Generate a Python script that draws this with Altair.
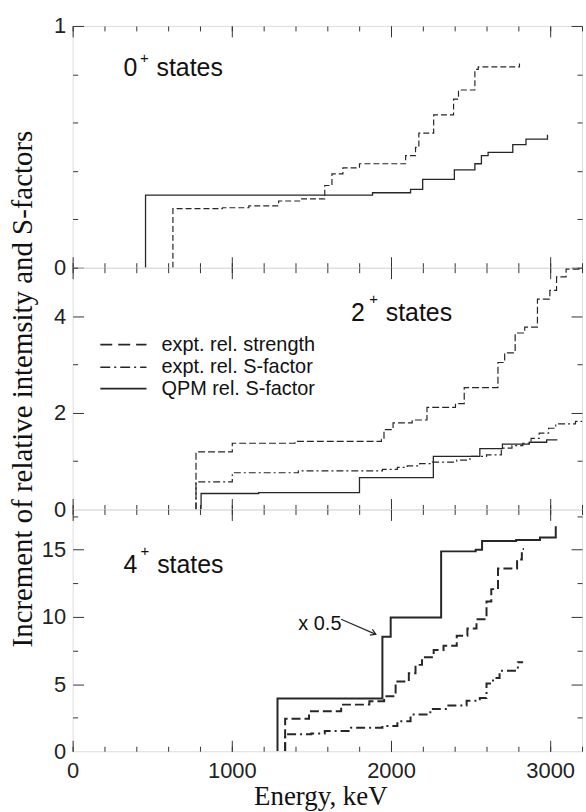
import altair as alt
import pandas as pd

X_MAX = 3200
LINE = "#262626"
FRAME = "#333333"

# ---------------- data ----------------
# 0+ states
p1_str_x = [630, 630, 941, 1107, 1294, 1439, 1584, 1629, 1698, 1802, 2092, 2154, 2175, 2268, 2393, 2424, 2527, 2548, 2807]
p1_str_y = [0, 0.244, 0.248, 0.256, 0.276, 0.285, 0.34, 0.388, 0.413, 0.43, 0.464, 0.498, 0.557, 0.632, 0.697, 0.735, 0.82, 0.831, 0.845]
p1_qpm_x = [458, 458, 1884, 2123, 2199, 2398, 2527, 2568, 2610, 2765, 2848, 2983]
p1_qpm_y = [0, 0.30, 0.31, 0.324, 0.365, 0.405, 0.43, 0.464, 0.477, 0.509, 0.532, 0.55]

# 2+ states
p2_str_x = [775, 775, 1003, 1397, 1940, 1956, 2013, 2133, 2226, 2405, 2460, 2672, 2714, 2780, 2840, 2920, 2998, 3040, 3100, 3200]
p2_str_y = [0, 1.19, 1.37, 1.41, 1.45, 1.65, 1.79, 1.85, 2.11, 2.19, 2.52, 3.04, 3.24, 3.65, 3.77, 4.35, 4.53, 4.81, 4.97, 4.97]
p2_sf_x = [775, 775, 1003, 1418, 1946, 2040, 2102, 2180, 2260, 2413, 2496, 2600, 2693, 2760, 2828, 2880, 2931, 2990, 3035, 3159, 3200]
p2_sf_y = [0, 0.57, 0.76, 0.80, 0.83, 0.87, 0.90, 0.95, 0.98, 1.02, 1.10, 1.13, 1.27, 1.32, 1.37, 1.47, 1.58, 1.68, 1.77, 1.82, 1.84]
p2_qpm_x = [807, 807, 1169, 1802, 2266, 2558, 2700, 2869, 2978, 3045]
p2_qpm_y = [0, 0.33, 0.35, 0.66, 1.10, 1.26, 1.35, 1.39, 1.44, 1.44]

# 4+ states
p3_qpm_x = [1287, 1287, 1946, 1998, 2315, 2532, 2572, 2786, 2936, 3035]
p3_qpm_y = [0, 3.92, 8.52, 9.95, 14.88, 15.0, 15.65, 15.72, 15.92, 16.75]
p3_str_x = [1335, 1335, 1485, 1687, 1864, 1957, 2029, 2112, 2154, 2195, 2268, 2330, 2413, 2480, 2537, 2600, 2630, 2672, 2792, 2822, 2835]
p3_str_y = [0, 2.41, 2.97, 3.47, 3.72, 4.09, 5.2, 5.8, 6.43, 7.0, 7.54, 7.86, 8.6, 9.14, 9.82, 11.15, 12.07, 13.6, 14.28, 15.05, 15.05]
p3_sf_x = [1335, 1335, 1500, 1584, 1749, 1946, 2040, 2123, 2247, 2351, 2475, 2558, 2600, 2641, 2682, 2797, 2830]
p3_sf_y = [0, 1.26, 1.32, 1.50, 1.75, 1.87, 2.24, 2.73, 3.15, 3.40, 3.76, 3.97, 5.05, 5.45, 6.0, 6.62, 6.62]

legend_labels = ["expt. rel. strength", "expt. rel. S-factor", "QPM rel. S-factor"]
x_tick_labels = [0, 1000, 2000, 3000]
x_minor = list(range(0, X_MAX + 1, 200))

W = 512
H = 243


def step_df(xs, ys):
    return pd.DataFrame({"x": xs, "y": ys, "i": list(range(len(xs)))})


def ax(orient, values, size):
    return alt.Axis(orient=orient, values=values, tickSize={"expr": str(-size)},
                    labels=False, domain=False, grid=False, title=None,
                    tickColor=FRAME, tickWidth=1)


def panel(series, ymax, y_major, y_minor, y_labels, bottom=False, y_title=None, extras=()):
    xs = alt.Scale(domain=[0, X_MAX], nice=False, zero=False)
    ys = alt.Scale(domain=[0, ymax], nice=False, zero=False)
    layers = []
    for xv, yv, dash, width in series:
        mk = dict(interpolate="step-after", strokeWidth=width, color=LINE, clip=True)
        if dash:
            mk["strokeDash"] = dash
        layers.append(
            alt.Chart(step_df(xv, yv)).mark_line(**mk).encode(
                x=alt.X("x:Q", scale=xs, axis=None),
                y=alt.Y("y:Q", scale=ys, axis=None),
                order="i:Q",
            )
        )
    corner = pd.DataFrame({"x": [0, X_MAX], "y": [0, ymax]})

    def axis_layer(xa, ya):
        return alt.Chart(corner).mark_point(opacity=0).encode(
            x=alt.X("x:Q", scale=xs, axis=xa), y=alt.Y("y:Q", scale=ys, axis=ya)
        )

    layers.append(axis_layer(ax("bottom", x_tick_labels, 11), ax("left", y_major, 11)))
    layers.append(axis_layer(ax("bottom", x_minor, 5), ax("left", y_minor, 5)))
    layers.append(axis_layer(ax("top", x_tick_labels, 11), ax("right", y_major, 11)))
    layers.append(axis_layer(ax("top", x_minor, 5), ax("right", y_minor, 5)))

    ylab = dict(orient="left", values=y_labels, ticks=False, domain=False, grid=False,
                labelFont="Liberation Sans", labelFontSize=22, labelPadding=7, format="d",
                labelColor="#222", labelFlush=False, labelOverlap=False)
    if y_title:
        ylab.update(title=y_title, titleFont="Liberation Serif", titleFontSize=29,
                    titleFontWeight="normal", titleColor="#111", titleAngle=270,
                    titleBaseline="alphabetic", titleAlign="center", titleX=-41, titleY=H / 2)
    else:
        ylab.update(title=None)
    if bottom:
        xlab = alt.Axis(orient="bottom", values=x_tick_labels, ticks=False, domain=False, grid=False,
                        labelFont="Liberation Sans", labelFontSize=22, labelPadding=9, format="d",
                        labelColor="#222", labelFlush=False, labelOverlap=False,
                        title="Energy, keV", titleFont="Liberation Serif", titleFontSize=27,
                        titleFontWeight="normal", titleColor="#111", titleBaseline="alphabetic",
                        titleAlign="center", titleX=249, titleY=54)
    else:
        xlab = None
    layers.append(axis_layer(xlab, alt.Axis(**ylab)))

    for ex in extras:
        layers.append(ex(xs, ys))

    return alt.layer(*layers).resolve_axis(x="independent", y="independent").properties(width=W, height=H)


def label_layer(rows):
    def make(xs, ys):
        df = pd.DataFrame(rows, columns=["t", "x", "y", "fs"])
        return alt.Chart(df).mark_text(align="left", baseline="alphabetic", font="Liberation Sans",
                                       color="#111").encode(
            x=alt.X("x:Q", scale=xs, axis=None), y=alt.Y("y:Q", scale=ys, axis=None),
            text="t:N", size=alt.Size("fs:Q", scale=None, legend=None))
    return make


# legend for 2+ panel
def legend_line(yv, dash, width):
    def make(xs, ys):
        df = pd.DataFrame({"x": [174], "x2": [464], "y": [yv]})
        mk = dict(color=LINE, strokeWidth=width)
        if dash:
            mk["strokeDash"] = dash
        return alt.Chart(df).mark_rule(**mk).encode(
            x=alt.X("x:Q", scale=xs, axis=None), x2="x2:Q", y=alt.Y("y:Q", scale=ys, axis=None))
    return make


def legend_text(xs, ys):
    df = pd.DataFrame({"t": legend_labels, "x": [558] * 3, "y": [3.41, 2.94, 2.50]})
    return alt.Chart(df).mark_text(align="left", baseline="middle", font="Liberation Sans",
                                   fontSize=20, color="#111").encode(
        x=alt.X("x:Q", scale=xs, axis=None), y=alt.Y("y:Q", scale=ys, axis=None), text="t:N")


def arrow_line(xs, ys):
    df = pd.DataFrame({"x": [1687, 1905], "y": [9.83, 8.70]})
    return alt.Chart(df).mark_line(color=LINE, strokeWidth=1.2).encode(
        x=alt.X("x:Q", scale=xs, axis=None), y=alt.Y("y:Q", scale=ys, axis=None))


def arrow_head(xs, ys):
    df = pd.DataFrame({"x": [1905], "y": [8.70]})
    return alt.Chart(df).mark_point(shape="M -1 -0.6 L 0 0 L -1 0.6", angle=23.6, size=110,
                                    filled=False, color=LINE, strokeWidth=1.2, opacity=1).encode(
        x=alt.X("x:Q", scale=xs, axis=None), y=alt.Y("y:Q", scale=ys, axis=None))


p1 = panel(
    [(p1_str_x, p1_str_y, [6, 3], 1.2), (p1_qpm_x, p1_qpm_y, None, 1.3)],
    1, [0, 1], [0.2, 0.4, 0.6, 0.8], [0, 1],
    extras=[label_layer([("0", 319, 0.795, 25), ("+", 423, 0.848, 15), ("states", 527, 0.795, 25)])],
)

p2 = panel(
    [(p2_str_x, p2_str_y, [7, 3], 1.2), (p2_sf_x, p2_sf_y, [7, 3, 2, 3], 1.2),
     (p2_qpm_x, p2_qpm_y, None, 1.3)],
    5, [2, 4], [1, 3, 5], [0, 2, 4],
    y_title="Increment of relative intemsity and S-factors",
    extras=[label_layer([("2", 1749, 3.89, 25), ("+", 1864, 4.24, 15), ("states", 1967, 3.89, 25)]),
            legend_line(3.41, [12, 6], 1.6), legend_line(2.94, [10, 4, 2, 4], 1.6),
            legend_line(2.50, None, 1.8), legend_text],
)

p3 = panel(
    [(p3_str_x, p3_str_y, [9, 4], 2.0), (p3_sf_x, p3_sf_y, [9, 4, 2, 4], 2.0),
     (p3_qpm_x, p3_qpm_y, None, 2.0)],
    18, [5, 10, 15], [2.5, 7.5, 12.5, 17.5], [0, 5, 10, 15], bottom=True,
    extras=[label_layer([("4", 319, 13.25, 25), ("+", 427, 14.56, 15), ("states", 531, 13.25, 25),
                         ("x 0.5", 1418, 9.0, 20)]),
            arrow_line, arrow_head],
)

chart = alt.vconcat(p1, p2, p3, spacing=0, bounds="flush").properties(
    padding={"left": 8, "top": 12, "right": 0, "bottom": 0}
).configure_view(stroke=FRAME, strokeWidth=1.2).configure(background="white")

chart.save("out.html", embed_options={"renderer": "svg", "actions": False})
